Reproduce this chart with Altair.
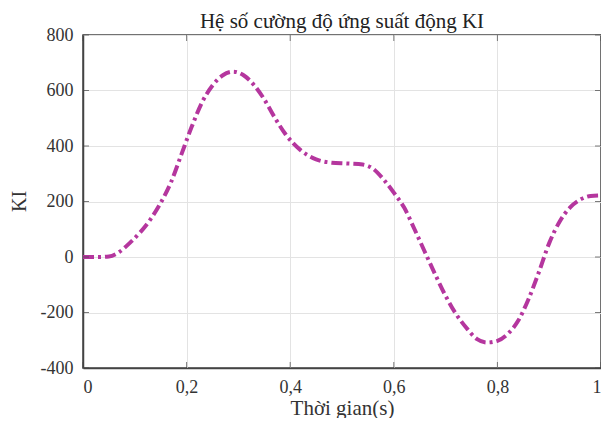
import altair as alt
import pandas as pd

t = [0.0, 0.03, 0.05, 0.07, 0.09, 0.11, 0.13, 0.15, 0.17, 0.19, 0.21, 0.23, 0.25,
     0.27, 0.29, 0.31, 0.33, 0.35, 0.37, 0.39, 0.42, 0.45, 0.48, 0.51, 0.54, 0.56,
     0.58, 0.60, 0.62, 0.64, 0.66, 0.68, 0.70, 0.72, 0.74, 0.76, 0.78, 0.80, 0.82,
     0.84, 0.86, 0.88, 0.90, 0.92, 0.94, 0.96, 0.98, 1.0]
ki = [0, 0, 2, 18, 50, 88, 135, 195, 270, 370, 470, 558, 618,
      655, 668, 655, 620, 568, 503, 445, 385, 352, 340, 337, 333, 318,
      280, 232, 178, 100, 18, -63, -140, -205, -255, -295, -308, -302, -277,
      -230, -152, -55, 50, 127, 178, 207, 220, 222]

x_ticks = [0, 0.2, 0.4, 0.6, 0.8, 1.0]
y_ticks = [-400, -200, 0, 200, 400, 600, 800]

df = pd.DataFrame({"t": t, "ki": ki})
xt = pd.DataFrame({"t": x_ticks, "lo": y_ticks[0], "hi": y_ticks[-1]})
yt = pd.DataFrame({"ki": y_ticks, "lo": x_ticks[0], "hi": x_ticks[-1]})

FONT = "Liberation Serif"
xs = alt.Scale(domain=[0, 1], nice=False)
ys = alt.Scale(domain=[-400, 800], nice=False)

line = alt.Chart(df).mark_line(
    color="#b5369e", strokeWidth=4, strokeDash=[11, 4, 3, 4], interpolate="monotone",
    strokeCap="butt"
).encode(
    x=alt.X("t:Q", scale=xs,
            axis=alt.Axis(values=x_ticks, title="Thời gian(s)",
                          labelFont=FONT, titleFont=FONT,
                          labelExpr="replace(format(datum.value, '.1~f'), '.', ',')",
                          titleX=259, titleY=46, titleBaseline="alphabetic",
                          titleFontSize=21)),
    y=alt.Y("ki:Q", scale=ys,
            axis=alt.Axis(values=y_ticks, title="KI", titleAngle=-90,
                          labelFont=FONT, titleFont=FONT,
                          labelExpr="toString(datum.value)",
                          titleX=-64, titleY=166, titleBaseline="middle",
                          titleAlign="center", titleFontSize=20)),
)

tick_style = dict(color="#444444", thickness=1, size=6)
tb = alt.Chart(xt).mark_tick(orient="vertical", yOffset=-3, **tick_style).encode(
    x=alt.X("t:Q", scale=xs), y=alt.Y("lo:Q", scale=ys))
tt = alt.Chart(xt).mark_tick(orient="vertical", yOffset=3, **tick_style).encode(
    x=alt.X("t:Q", scale=xs), y=alt.Y("hi:Q", scale=ys))
tl = alt.Chart(yt).mark_tick(orient="horizontal", xOffset=3, **tick_style).encode(
    y=alt.Y("ki:Q", scale=ys), x=alt.X("lo:Q", scale=xs))
tr = alt.Chart(yt).mark_tick(orient="horizontal", xOffset=-3, **tick_style).encode(
    y=alt.Y("ki:Q", scale=ys), x=alt.X("hi:Q", scale=xs))

chart = alt.layer(line, tb, tt, tl, tr).properties(
    width=518, height=333,
    title=alt.Title("Hệ số cường độ ứng suất động KI", fontSize=21, font=FONT,
                    fontWeight="normal", color="#222222", offset=6, dy=12, anchor="middle"),
    autosize=alt.AutoSizeParams(type="none"),
    padding={"left": 75, "top": 27, "right": 0, "bottom": 50},
).configure(
    font=FONT
).configure_view(
    stroke="#444444", strokeWidth=1.5
).configure_axis(
    labelFont=FONT, titleFont=FONT, labelFontSize=18, titleFontSize=20,
    labelColor="#333333", titleColor="#333333", titleFontWeight="normal",
    grid=True, gridColor="#e3e3e3", gridWidth=1,
    domainColor="#444444", domainWidth=1.5,
    ticks=False, labelPadding=10,
)

chart.save("out.html", embed_options={"renderer": "svg", "actions": False})
